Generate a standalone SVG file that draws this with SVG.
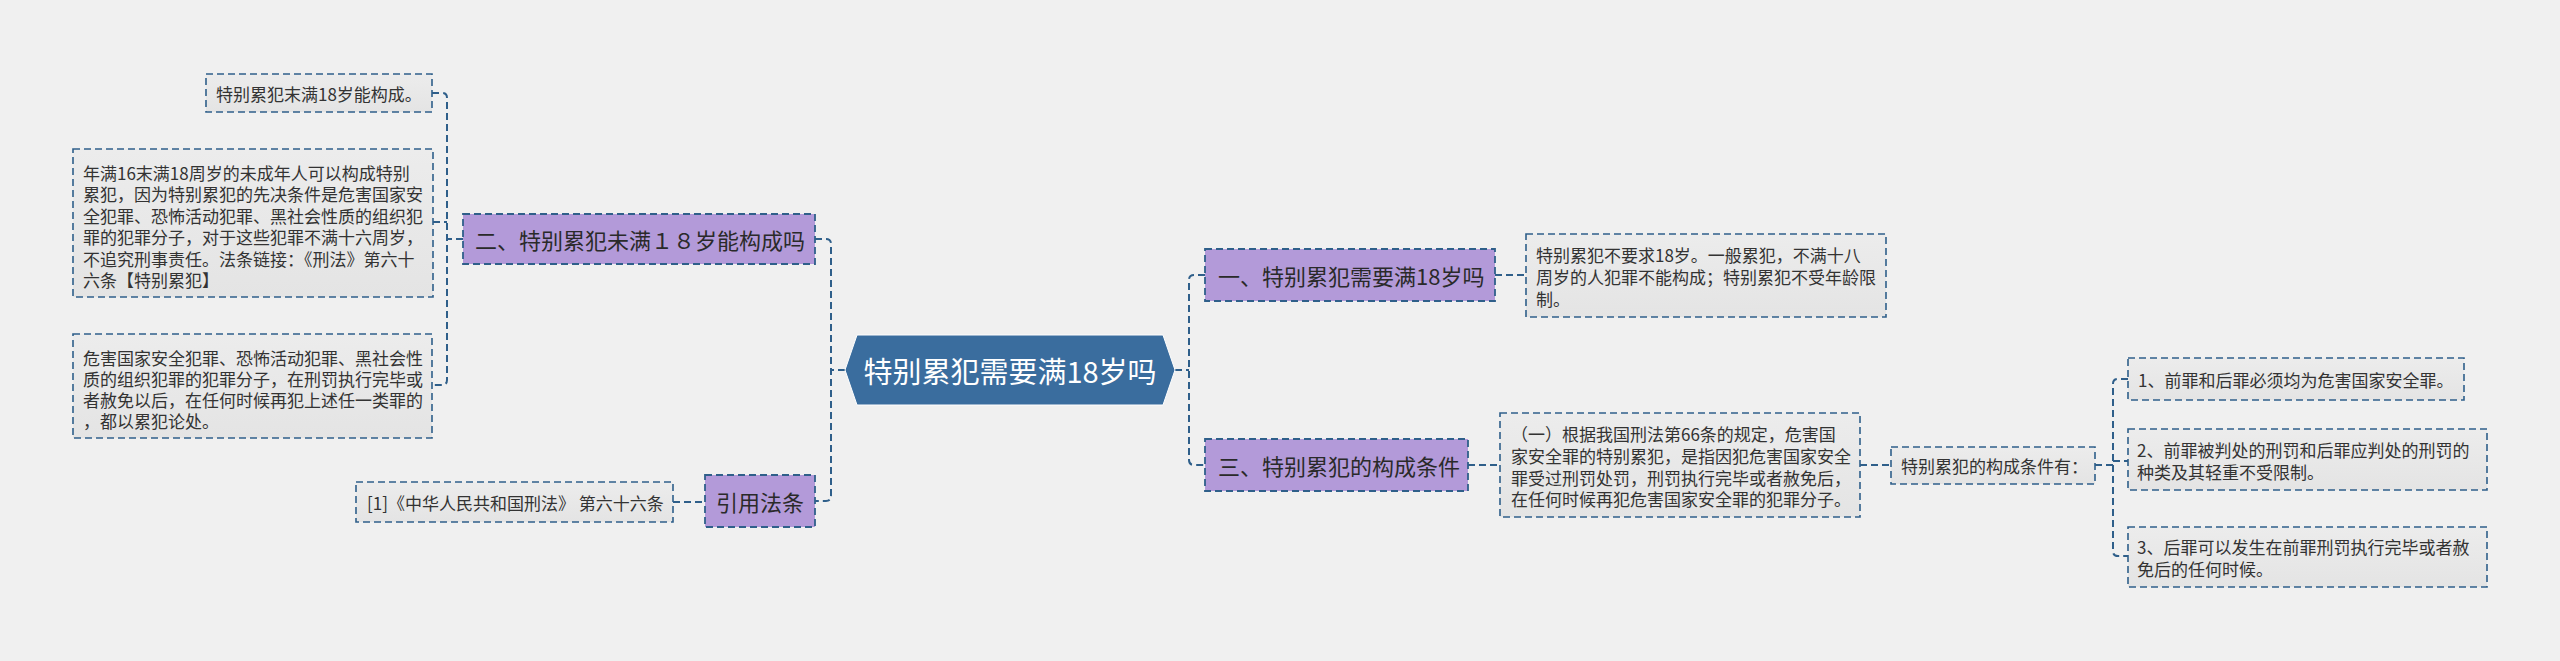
<svg xmlns="http://www.w3.org/2000/svg" width="2560" height="661" viewBox="0 0 2560 661">
<defs>
<linearGradient id="gbox" x1="0" y1="0" x2="0" y2="1">
<stop offset="0" stop-color="#ececec"/>
<stop offset="1" stop-color="#e4e4e4"/>
</linearGradient>
<style>
.bg{fill:#f0f0f0}
.box{fill:url(#gbox);stroke:#2f5f8a;stroke-width:1.6;stroke-dasharray:7 4}
.pnode{fill:#b39ad9;stroke:#2f5f8a;stroke-width:1.8;stroke-dasharray:7 4}
.root{fill:#3a6d9e;stroke:#ffffff;stroke-width:1}
.conn{fill:none;stroke:#2f5f8a;stroke-width:2;stroke-dasharray:7 4}
text{font-family:"Noto Sans CJK SC","Noto Sans",sans-serif;dominant-baseline:central}
.t{font-size:17px;fill:#333333}
.pt{font-size:22px;fill:#2a2a2a}
.rt{font-size:29px;fill:#ffffff}
</style>
</defs>
<rect class="bg" x="0" y="0" width="2560" height="661"/>

<g id="connectors">
<path class="conn" d="M845,370 H831"/>
<path class="conn" d="M815,239 H826 Q831,239 831,244 V496 Q831,501 826,501 H815"/>
<path class="conn" d="M1175,370 H1189"/>
<path class="conn" d="M1205,275 H1194 Q1189,275 1189,280 V460 Q1189,465 1194,465 H1205"/>
<path class="conn" d="M463,239 H447"/>
<path class="conn" d="M432,93 H442 Q447,93 447,98 V380 Q447,385 442,385 H432"/>
<path class="conn" d="M433,222 H447"/>
<path class="conn" d="M673,502 H705"/>
<path class="conn" d="M1495,275 H1526"/>
<path class="conn" d="M1468,465 H1500"/>
<path class="conn" d="M1860,465 H1891"/>
<path class="conn" d="M2095,465 H2113"/>
<path class="conn" d="M2128,379 H2118 Q2113,379 2113,384 V551 Q2113,556 2118,556 H2128"/>
<path class="conn" d="M2113,461 H2128"/>
</g>

<g id="root">
<polygon class="root" points="857,335 1163,335 1175,370 1163,405 857,405 845,370"/>
<text class="rt" x="1010" y="370" text-anchor="middle">特别累犯需要满18岁吗</text>
</g>

<g id="node-er">
<rect class="pnode" x="463" y="214" width="352" height="50"/>
<text class="pt" x="475" y="239">二、特别累犯未满１８岁能构成吗</text>
</g>

<g id="node-yinyong">
<rect class="pnode" x="705" y="475" width="110" height="52"/>
<text class="pt" x="760" y="501" text-anchor="middle">引用法条</text>
</g>

<g id="node-yi">
<rect class="pnode" x="1205" y="249" width="290" height="52"/>
<text class="pt" x="1218" y="275">一、特别累犯需要满18岁吗</text>
</g>

<g id="node-san">
<rect class="pnode" x="1205" y="439" width="263" height="52"/>
<text class="pt" x="1218" y="465">三、特别累犯的构成条件</text>
</g>

<g id="leaf-l1">
<rect class="box" x="206" y="74" width="226" height="38"/>
<text class="t" x="216" y="93">特别累犯末满18岁能构成。</text>
</g>

<g id="leaf-l2">
<rect class="box" x="73" y="149" width="360" height="148"/>
<text class="t" x="83" y="172">年满16末满18周岁的未成年人可以构成特别</text>
<text class="t" x="83" y="193.5">累犯，因为特别累犯的先决条件是危害国家安</text>
<text class="t" x="83" y="215">全犯罪、恐怖活动犯罪、黑社会性质的组织犯</text>
<text class="t" x="83" y="236.5">罪的犯罪分子，对于这些犯罪不满十六周岁，</text>
<text class="t" x="83" y="258">不追究刑事责任。法条链接：《刑法》第六十</text>
<text class="t" x="83" y="279.5">六条【特别累犯】</text>
</g>

<g id="leaf-l3">
<rect class="box" x="73" y="334" width="359" height="104"/>
<text class="t" x="83" y="357">危害国家安全犯罪、恐怖活动犯罪、黑社会性</text>
<text class="t" x="83" y="378">质的组织犯罪的犯罪分子，在刑罚执行完毕或</text>
<text class="t" x="83" y="399">者赦免以后，在任何时候再犯上述任一类罪的</text>
<text class="t" x="83" y="420">，都以累犯论处。</text>
</g>

<g id="leaf-ref">
<rect class="box" x="356" y="482" width="317" height="40"/>
<text class="t" x="367" y="502">[1]《中华人民共和国刑法》 第六十六条</text>
</g>

<g id="leaf-r1">
<rect class="box" x="1526" y="234" width="360" height="83"/>
<text class="t" x="1536" y="254">特别累犯不要求18岁。一般累犯，不满十八</text>
<text class="t" x="1536" y="276">周岁的人犯罪不能构成；特别累犯不受年龄限</text>
<text class="t" x="1536" y="298">制。</text>
</g>

<g id="leaf-r3">
<rect class="box" x="1500" y="413" width="360" height="104"/>
<text class="t" x="1511" y="433">（一）根据我国刑法第66条的规定，危害国</text>
<text class="t" x="1511" y="455">家安全罪的特别累犯，是指因犯危害国家安全</text>
<text class="t" x="1511" y="477">罪受过刑罚处罚，刑罚执行完毕或者赦免后，</text>
<text class="t" x="1511" y="498">在任何时候再犯危害国家安全罪的犯罪分子。</text>
</g>

<g id="node-tiaojian">
<rect class="box" x="1891" y="447" width="204" height="37"/>
<text class="t" x="1901" y="465.5">特别累犯的构成条件有：</text>
</g>

<g id="leaf-c1">
<rect class="box" x="2128" y="358" width="336" height="42"/>
<text class="t" x="2138" y="379">1、前罪和后罪必须均为危害国家安全罪。</text>
</g>

<g id="leaf-c2">
<rect class="box" x="2128" y="429" width="359" height="61"/>
<text class="t" x="2137" y="449">2、前罪被判处的刑罚和后罪应判处的刑罚的</text>
<text class="t" x="2137" y="471">种类及其轻重不受限制。</text>
</g>

<g id="leaf-c3">
<rect class="box" x="2128" y="527" width="359" height="60"/>
<text class="t" x="2137" y="546">3、后罪可以发生在前罪刑罚执行完毕或者赦</text>
<text class="t" x="2137" y="568">免后的任何时候。</text>
</g>
</svg>
